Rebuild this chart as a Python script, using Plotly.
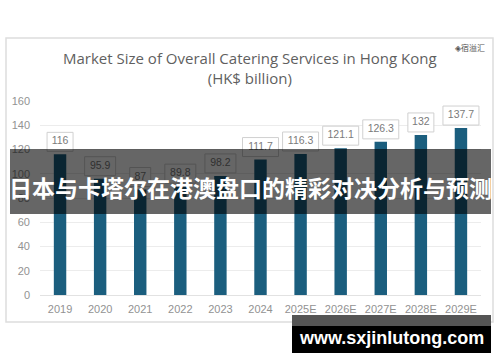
import plotly.graph_objects as go

years = ["2019", "2020", "2021", "2022", "2023", "2024", "2025E", "2026E", "2027E", "2028E", "2029E"]
values = [116, 95.9, 87.0, 89.8, 98.2, 111.7, 116.3, 121.1, 126.3, 132, 137.7]
labels = ["116", "95.9", "87", "89.8", "98.2", "111.7", "116.3", "121.1", "126.3", "132", "137.7"]
y_ticks = [0, 20, 40, 60, 80, 100, 120, 140, 160]

title_text = "Market Size of Overall Catering Services in Hong Kong<br>(HK$ billion)"
banner_text = "日本与卡塔尔在港澳盘口的精彩对决分析与预测"
watermark_text = "www.sxjinlutong.com"
logo_text = "◈宿溢汇"

W, H = 500, 362
L, R, T, B = 40, 19, 101, 67
PW, PH = W - L - R, H - T - B
px_per_unit = PH / 160.0

def px(x):
    return (x - L) / PW

def py(y):
    return (H - B - y) / PH

fig = go.Figure()
fig.add_trace(go.Bar(x=years, y=values, marker=dict(color="#1b5e7e", line=dict(width=0)),
                     hoverinfo="skip", showlegend=False))
fig.add_trace(go.Scatter(x=years, y=[v + 12.5 / px_per_unit for v in values], mode="text",
                         text=labels, textposition="middle center",
                         textfont=dict(family="Liberation Sans", size=10.5, color="#7a7a7a"),
                         hoverinfo="skip", showlegend=False))

shapes = []
shapes.append(dict(type="rect", xref="paper", yref="paper", x0=px(6), x1=px(493), y0=py(322), y1=py(38),
                   line=dict(color="#dddddd", width=1.5), fillcolor="rgba(0,0,0,0)", layer="below"))
for i, (v, t) in enumerate(zip(values, labels)):
    w = 5 * len(t) + 11
    shapes.append(dict(type="rect", xref="x", yref="y", xsizemode="pixel", ysizemode="pixel",
                       xanchor=i, yanchor=v, x0=-w / 2, x1=w / 2, y0=3, y1=22,
                       line=dict(color="#d0d0d0", width=1), fillcolor="white", layer="between"))
shapes.append(dict(type="rect", xref="paper", yref="paper", x0=px(10), x1=px(491), y0=py(214), y1=py(149),
                   line=dict(width=0), fillcolor="rgba(0,0,0,0.6)", layer="above"))
shapes.append(dict(type="rect", xref="paper", yref="paper", x0=px(292), x1=px(491), y0=py(326), y1=py(315),
                   line=dict(width=0), fillcolor="#555555", layer="above"))
shapes.append(dict(type="rect", xref="paper", yref="paper", x0=px(292), x1=px(491), y0=py(353), y1=py(326),
                   line=dict(width=0), fillcolor="#000000", layer="above"))

annotations = [
    dict(text=title_text, xref="paper", yref="paper", x=px(250), y=py(68), xanchor="center", yanchor="middle",
         showarrow=False, font=dict(family="Open Sans", size=15, color="#5f5f5f")),
    dict(text=logo_text, xref="paper", yref="paper", x=px(487), y=py(47), xanchor="right", yanchor="middle",
         showarrow=False, font=dict(family="Noto Sans CJK SC", size=8, color="#555555")),
    dict(text=banner_text, xref="paper", yref="paper", x=px(250), y=py(187), xanchor="center", yanchor="middle",
         showarrow=False, font=dict(family="Noto Sans CJK SC", size=23, color="white", weight="bold")),
    dict(text=watermark_text, xref="paper", yref="paper", x=px(391), y=py(338), xanchor="center", yanchor="middle",
         showarrow=False, font=dict(family="Liberation Sans", size=18, color="white", weight="bold")),
]

fig.update_layout(
    width=W, height=H, margin=dict(l=L, r=R, t=T, b=B, pad=0, autoexpand=False),
    paper_bgcolor="white", plot_bgcolor="white",
    bargap=0.69, shapes=shapes, annotations=annotations,
    xaxis=dict(type="category", categoryorder="array", categoryarray=years, range=[-0.5, 10.5],
               automargin=False, showgrid=False, zeroline=False, showline=False, ticks="",
               tickfont=dict(family="Liberation Sans", size=11, color="#929292"), ticklabelstandoff=6),
    yaxis=dict(range=[0, 160], tickvals=y_ticks, showgrid=True, gridcolor="#ececec", gridwidth=1,
               automargin=False, zeroline=True, zerolinecolor="#e2e2e2", zerolinewidth=1, showline=False, ticks="",
               tickfont=dict(family="Liberation Sans", size=11, color="#929292"), ticklabelstandoff=9),
)

fig.write_html("out.html", config={"displayModeBar": False},
               post_script="document.body.style.margin='0';document.body.style.overflow='hidden';")
